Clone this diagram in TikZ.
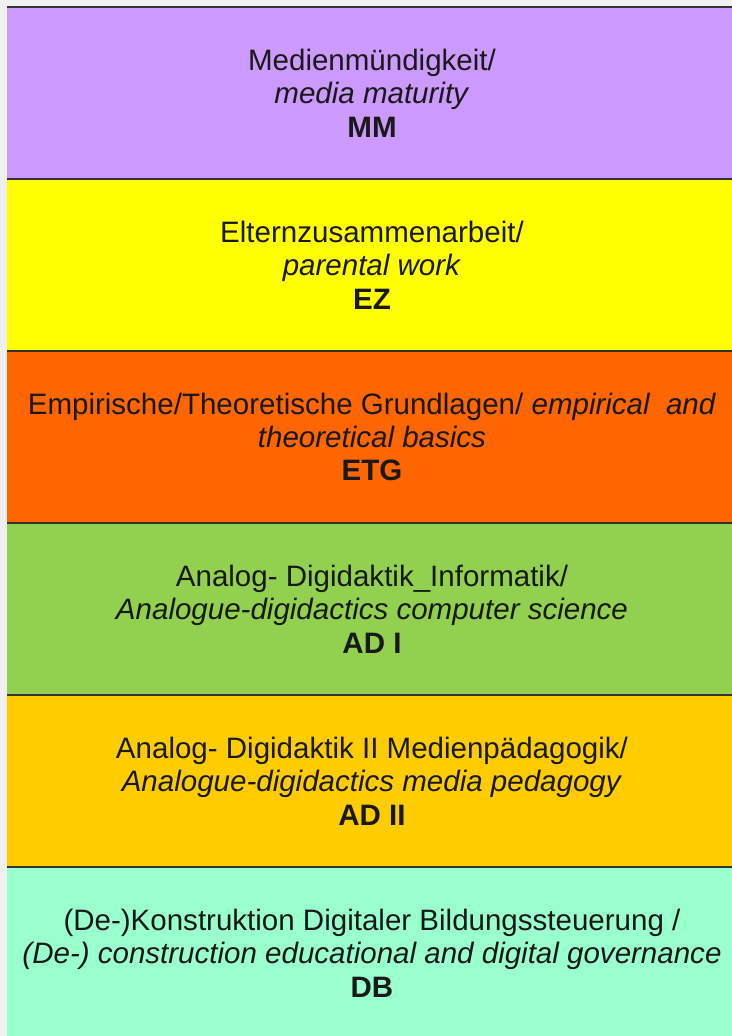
\documentclass[tikz,border=0pt]{standalone}
\usepackage{fontspec}
\setmainfont{Liberation Sans}
\usepackage{xcolor}
\usetikzlibrary{positioning}

\begin{document}
\begin{tikzpicture}[
    tier/.style={rectangle, outer sep=0pt,
        minimum width=14.6cm, minimum height=3.44cm, inner sep=0pt,
        align=center, text=black!90, font=\fontsize{16.8}{19}\selectfont},
    rule/.style={draw=black!80, line width=1.2pt},
    node distance=0cm,
]

% ── Colors ──
\definecolor{mmfill}{HTML}{CC99FF}
\definecolor{ezfill}{HTML}{FFFF00}
\definecolor{etgfill}{HTML}{FF6600}
\definecolor{adifill}{HTML}{92D050}
\definecolor{adiifill}{HTML}{FFCC00}
\definecolor{dbfill}{HTML}{99FFCC}
\definecolor{pagebg}{HTML}{F0F0F0}

% ══════════════════════════════════════════════
% Page frame
% ══════════════════════════════════════════════
\useasboundingbox (0,0) rectangle (14.64,-20.72);
\clip (0,0) rectangle (14.64,-20.72);
\fill[pagebg] (0,0) rectangle (14.64,-20.72);

% ══════════════════════════════════════════════
% Stacked tiers
% ══════════════════════════════════════════════
\node[tier, fill=mmfill, anchor=north west] at (0.14,-0.14) (mm)
    {Medienmündigkeit/\\\textit{media maturity}\\\textbf{MM}};

\node[tier, fill=ezfill, below=of mm] (ez)
    {Elternzusammenarbeit/\\\textit{parental work}\\\textbf{EZ}};

\node[tier, fill=etgfill, below=of ez] (etg)
    {Empirische/Theoretische Grundlagen/ \textit{empirical\ \ and}\\\textit{theoretical basics}\\\textbf{ETG}};

\node[tier, fill=adifill, below=of etg] (adi)
    {Analog- Digidaktik\_Informatik/\\\textit{Analogue-digidactics computer science}\\\textbf{AD I}};

\node[tier, fill=adiifill, below=of adi] (adii)
    {Analog- Digidaktik II Medienpädagogik/\\\textit{Analogue-digidactics media pedagogy}\\\textbf{AD II}};

\node[tier, fill=dbfill, below=of adii] (db)
    {(De-)Konstruktion Digitaler Bildungssteuerung /\\\textit{(De-) construction educational and digital governance}\\\textbf{DB}};

% ══════════════════════════════════════════════
% Dividing rules
% ══════════════════════════════════════════════
\draw[rule, line width=1.6pt] (mm.north west) -- (mm.north east);
\foreach \t in {mm, ez, etg, adi, adii}
    \draw[rule] (\t.south west) -- (\t.south east);

\end{tikzpicture}
\end{document}
